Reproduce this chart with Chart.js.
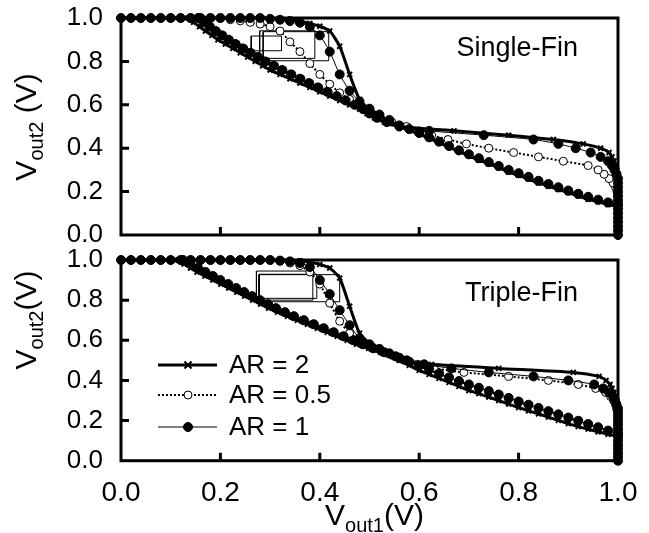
<!DOCTYPE html>
<html>
<head>
<meta charset="utf-8">
<script src="https://cdn.jsdelivr.net/npm/chart.js@4.4.1/dist/chart.umd.min.js"></script>
<style>
  html, body { margin: 0; padding: 0; background: #fff; }
  #wrap { position: relative; width: 649px; height: 533px; overflow: hidden; }
  canvas { position: absolute; left: 0; }
</style>
</head>
<body>
<div id="wrap">
  <canvas id="singleFin" width="649" height="255" style="top:0"></canvas>
  <canvas id="tripleFin" width="649" height="290" style="top:243px"></canvas>
</div>
<script>
// swept voltage (V), step 0.02
const vSweep = [0, 0.02, 0.04, 0.06, 0.08, 0.10, 0.12, 0.14, 0.16, 0.18,
  0.20, 0.22, 0.24, 0.26, 0.28, 0.30, 0.32, 0.34, 0.36, 0.38,
  0.40, 0.42, 0.44, 0.46, 0.48, 0.50, 0.52, 0.54, 0.56, 0.58,
  0.60, 0.62, 0.64, 0.66, 0.68, 0.70, 0.72, 0.74, 0.76, 0.78,
  0.80, 0.82, 0.84, 0.86, 0.88, 0.90, 0.92, 0.94, 0.96, 0.98, 1.0];

const axisTicks = [0, 0.2, 0.4, 0.6, 0.8, 1.0];
const legendLabels = ['AR = 2', 'AR = 0.5', 'AR = 1'];

// Single-Fin: Vout2 read at Vout1 = vSweep
const singleAR2_out2 = [1, 1, 1, 1, 1, 1, 1, 1, 1, 1, 1, 1, 1, 1, 1, 1,
  0.996, 0.992, 0.985, 0.975, 0.962, 0.94, 0.87, 0.74, 0.625, 0.58,
  0.552, 0.525, 0.50, 0.482, 0.465, 0.445, 0.425, 0.405, 0.385, 0.365,
  0.345, 0.328, 0.31, 0.29, 0.275, 0.258, 0.24, 0.225, 0.21, 0.195,
  0.18, 0.165, 0.153, 0.14, 0.13];
const singleAR05_out2 = [1, 1, 1, 1, 1, 1, 1, 1, 1, 1, 1,
  0.992, 0.987, 0.98, 0.972, 0.96, 0.94, 0.89, 0.845, 0.79, 0.74,
  0.695, 0.655, 0.625, 0.60, 0.575, 0.552, 0.528, 0.505, 0.487, 0.47,
  0.45, 0.43, 0.41, 0.39, 0.37, 0.352, 0.334, 0.316, 0.298, 0.282,
  0.265, 0.248, 0.232, 0.217, 0.202, 0.188, 0.174, 0.161, 0.149, 0.138];
const singleAR1_out2 = [1, 1, 1, 1, 1, 1, 1, 1, 1, 1, 1, 1, 1, 1, 1,
  0.996, 0.992, 0.986, 0.978, 0.96, 0.92, 0.845, 0.74, 0.665, 0.615,
  0.582, 0.555, 0.53, 0.505, 0.488, 0.47, 0.45, 0.43, 0.41, 0.39,
  0.372, 0.354, 0.336, 0.318, 0.30, 0.285, 0.268, 0.25, 0.235, 0.22,
  0.205, 0.19, 0.176, 0.163, 0.15, 0.14];
// Single-Fin: Vout1 read at Vout2 = vSweep
const singleAR2_out1 = [1, 1, 1, 1, 1, 1, 1, 1, 1, 1, 1, 1, 1, 1, 1,
  0.997, 0.995, 0.992, 0.988, 0.982, 0.965, 0.93, 0.87, 0.78, 0.67,
  0.56, 0.53, 0.51, 0.495, 0.48, 0.46, 0.44, 0.42, 0.40, 0.38,
  0.36, 0.34, 0.32, 0.30, 0.285, 0.27, 0.255, 0.24, 0.225, 0.21,
  0.195, 0.183, 0.17, 0.158, 0.146, 0.135];
const singleAR05_out1 = [1, 1, 1, 1, 1, 1, 1, 1, 1, 1,
  0.998, 0.995, 0.99, 0.982, 0.972, 0.96, 0.94, 0.89, 0.84, 0.79,
  0.74, 0.695, 0.658, 0.625, 0.60, 0.575, 0.545, 0.522, 0.505, 0.49,
  0.472, 0.454, 0.436, 0.417, 0.398, 0.38, 0.362, 0.344, 0.326, 0.309,
  0.292, 0.277, 0.262, 0.247, 0.232, 0.218, 0.205, 0.192, 0.18, 0.168, 0.157];
const singleAR1_out1 = [1, 1, 1, 1, 1, 1, 1, 1, 1, 1, 1, 1, 1, 1,
  0.997, 0.993, 0.988, 0.98, 0.965, 0.945, 0.915, 0.88, 0.83, 0.73,
  0.62, 0.56, 0.535, 0.515, 0.50, 0.487, 0.47, 0.452, 0.434, 0.415,
  0.396, 0.378, 0.36, 0.342, 0.324, 0.307, 0.29, 0.275, 0.26, 0.245,
  0.23, 0.216, 0.203, 0.19, 0.178, 0.166, 0.155];

// Triple-Fin: Vout2 read at Vout1 = vSweep
const tripleAR2_out2 = [1, 1, 1, 1, 1, 1, 1, 1, 1, 1, 1, 1, 1, 1, 1, 1, 1, 1,
  0.995, 0.99, 0.978, 0.96, 0.91, 0.77, 0.635, 0.585, 0.553, 0.525,
  0.50, 0.475, 0.45, 0.43, 0.41, 0.39, 0.37, 0.35, 0.334, 0.317,
  0.30, 0.282, 0.265, 0.249, 0.233, 0.217, 0.201, 0.185, 0.17, 0.157,
  0.144, 0.132, 0.12];
const tripleAR05_out2 = [1, 1, 1, 1, 1, 1, 1, 1, 1, 1, 1, 1, 1, 1, 1, 1,
  0.994, 0.985, 0.972, 0.94, 0.88, 0.785, 0.695, 0.635, 0.60, 0.578,
  0.555, 0.533, 0.511, 0.491, 0.473, 0.453, 0.433, 0.413, 0.395, 0.378,
  0.362, 0.345, 0.328, 0.311, 0.293, 0.277, 0.261, 0.245, 0.229, 0.213,
  0.197, 0.181, 0.165, 0.148, 0.13];
const tripleAR1_out2 = [1, 1, 1, 1, 1, 1, 1, 1, 1, 1, 1, 1, 1, 1, 1, 1,
  0.997, 0.993, 0.985, 0.965, 0.90, 0.83, 0.75, 0.675, 0.61, 0.58,
  0.557, 0.535, 0.513, 0.493, 0.475, 0.455, 0.435, 0.415, 0.397, 0.38,
  0.364, 0.347, 0.33, 0.313, 0.295, 0.279, 0.263, 0.247, 0.231, 0.215,
  0.199, 0.183, 0.167, 0.15, 0.13];
// Triple-Fin: Vout1 read at Vout2 = vSweep
const tripleAR2_out1 = [1, 1, 1, 1, 1, 1, 1, 1, 1, 1, 1, 1, 1, 1, 1,
  0.996, 0.994, 0.992, 0.988, 0.984, 0.976, 0.962, 0.91, 0.76, 0.625,
  0.565, 0.545, 0.522, 0.498, 0.474, 0.455, 0.435, 0.415, 0.395, 0.375,
  0.355, 0.335, 0.315, 0.297, 0.281, 0.265, 0.249, 0.233, 0.217, 0.201,
  0.185, 0.169, 0.153, 0.14, 0.127, 0.115];
const tripleAR05_out1 = [1, 1, 1, 1, 1, 1, 1, 1, 1, 1, 1, 1, 1,
  0.997, 0.995, 0.991, 0.985, 0.975, 0.955, 0.92, 0.86, 0.78, 0.69,
  0.63, 0.595, 0.57, 0.55, 0.527, 0.505, 0.484, 0.465, 0.445, 0.425,
  0.405, 0.385, 0.365, 0.345, 0.327, 0.31, 0.294, 0.278, 0.262, 0.246,
  0.23, 0.214, 0.198, 0.183, 0.168, 0.153, 0.138, 0.125];
const tripleAR1_out1 = [1, 1, 1, 1, 1, 1, 1, 1, 1, 1, 1, 1, 1, 1,
  0.997, 0.994, 0.99, 0.982, 0.97, 0.952, 0.90, 0.83, 0.74, 0.665,
  0.61, 0.575, 0.553, 0.53, 0.508, 0.487, 0.468, 0.448, 0.428, 0.408,
  0.388, 0.368, 0.348, 0.33, 0.312, 0.296, 0.28, 0.264, 0.248, 0.232,
  0.216, 0.2, 0.185, 0.17, 0.155, 0.14, 0.125];

// noise-margin boxes [x0, x1, y0, y1]
const singleBoxes = [[0.262, 0.323, 0.849, 0.917], [0.279, 0.390, 0.814, 0.941], [0.286, 0.418, 0.803, 0.937]];
const tripleBoxes = [[0.2725, 0.386, 0.80, 0.945], [0.278, 0.394, 0.809, 0.929], [0.278, 0.44, 0.792, 0.927]];

const FONT = "'Liberation Sans', Arial, sans-serif";
Chart.defaults.font.family = FONT;
Chart.defaults.color = '#000';

const styleAR2 = { borderColor: '#000', borderWidth: 3, pointStyle: 'crossRot', pointRadius: 3.5,
  pointBorderWidth: 2, pointBackgroundColor: '#000', pointBorderColor: '#000' };
const styleAR05 = { borderColor: '#000', borderWidth: 2, borderDash: [2, 2], pointStyle: 'circle', pointRadius: 4,
  pointBorderWidth: 1, pointBackgroundColor: '#fff', pointBorderColor: '#000' };
const styleAR1 = { borderColor: '#000', borderWidth: 1, pointStyle: 'circle', pointRadius: 4.5,
  pointBorderWidth: 1, pointBackgroundColor: '#000', pointBorderColor: '#000' };
const legendStyles = [styleAR2, styleAR05, styleAR1];

function curve(xs, ys, style, order) {
  return Object.assign({
    data: xs.map((x, i) => ({ x: x, y: ys[i] })),
    showLine: true, tension: 0.2, clip: false, order: order
  }, style);
}

function box(b) {
  return {
    data: [{ x: b[0], y: b[2] }, { x: b[1], y: b[2] }, { x: b[1], y: b[3] }, { x: b[0], y: b[3] }, { x: b[0], y: b[2] }],
    showLine: true, tension: 0, pointRadius: 0, borderColor: '#000', borderWidth: 1, order: 5
  };
}

function drawParts(ctx, parts, x, y, center) {
  let w = 0;
  parts.forEach(p => { ctx.font = p[1] + 'px ' + FONT; w += ctx.measureText(p[0]).width; });
  let cx = center ? x - w / 2 : x;
  ctx.textAlign = 'left';
  ctx.textBaseline = 'alphabetic';
  parts.forEach(p => {
    ctx.font = p[1] + 'px ' + FONT;
    ctx.fillText(p[0], cx, y + p[2]);
    cx += ctx.measureText(p[0]).width;
  });
}

function drawMarker(ctx, style, x, y) {
  ctx.save();
  ctx.lineWidth = style.pointBorderWidth;
  ctx.strokeStyle = style.pointBorderColor;
  ctx.fillStyle = style.pointBackgroundColor;
  const r = style.pointRadius;
  ctx.beginPath();
  if (style.pointStyle === 'crossRot') {
    ctx.moveTo(x - r, y - r); ctx.lineTo(x + r, y + r);
    ctx.moveTo(x + r, y - r); ctx.lineTo(x - r, y + r);
    ctx.stroke();
  } else {
    ctx.arc(x, y, r, 0, Math.PI * 2);
    ctx.fill(); ctx.stroke();
  }
  ctx.restore();
}

const framePlugin = {
  id: 'frame',
  afterDraw(chart, args, opts) {
    const ctx = chart.ctx;
    const a = chart.chartArea;
    const xs = chart.scales.x, ys = chart.scales.y;
    ctx.save();
    ctx.strokeStyle = '#000';
    ctx.fillStyle = '#000';
    ctx.lineWidth = 3;
    ctx.strokeRect(a.left, a.top, a.right - a.left, a.bottom - a.top);
    ctx.beginPath();
    axisTicks.slice(1, -1).forEach(v => {
      const px = xs.getPixelForValue(v);
      ctx.moveTo(px, a.bottom); ctx.lineTo(px, a.bottom - 8);
      const py = ys.getPixelForValue(v);
      ctx.moveTo(a.left, py); ctx.lineTo(a.left + 8, py);
    });
    ctx.stroke();

    // panel name
    ctx.font = '27px ' + FONT;
    ctx.textAlign = 'right';
    ctx.textBaseline = 'alphabetic';
    ctx.fillText(opts.panel, 578, a.top + opts.panelDy);

    // y title with subscript
    ctx.save();
    ctx.translate(36, opts.yTitleY);
    ctx.rotate(-Math.PI / 2);
    drawParts(ctx, [['V', 30, 0], ['out2', 20, 7], [opts.ySep + '(V)', 30, 0]], 0, 0, true);
    ctx.restore();

    if (opts.xTitle) {
      drawParts(ctx, [['V', 30, 0], ['out1', 20, 7], ['(V)', 30, 0]], 325, opts.xTitleY, false);
    }

    if (opts.legend) {
      const rows = [122, 152, 184];
      legendStyles.forEach((st, i) => {
        const y = rows[i];
        ctx.save();
        ctx.lineWidth = st.borderWidth;
        ctx.setLineDash(st.borderDash || []);
        ctx.beginPath();
        ctx.moveTo(158, y); ctx.lineTo(217, y);
        ctx.stroke();
        ctx.restore();
        drawMarker(ctx, st, 188, y);
        ctx.font = '26px ' + FONT;
        ctx.textAlign = 'left';
        ctx.textBaseline = 'middle';
        ctx.fillText(legendLabels[i], 229, y + 1);
      });
    }
    ctx.restore();
  }
};

function makePanel(id, series, boxes, opts) {
  // lower order value is drawn on top
  const datasets = [
    curve(vSweep, series.ar2_out2, styleAR2, 0),
    curve(series.ar2_out1, vSweep, styleAR2, 0),
    curve(vSweep, series.ar1_out2, styleAR1, 1),
    curve(series.ar1_out1, vSweep, styleAR1, 1),
    curve(vSweep, series.ar05_out2, styleAR05, 2),
    curve(series.ar05_out1, vSweep, styleAR05, 2)
  ].concat(boxes.map(box));

  const chart = new Chart(document.getElementById(id), {
    type: 'scatter',
    data: { datasets: datasets },
    plugins: [framePlugin],
    options: {
      responsive: false,
      animation: false,
      devicePixelRatio: 1,
      layout: { padding: { left: 0, right: 31, top: opts.padTop, bottom: 0 } },
      scales: {
        x: {
          type: 'linear', min: 0, max: 1,
          afterBuildTicks: s => { s.ticks = axisTicks.map(v => ({ value: v })); },
          afterFit: s => { s.height = opts.xHeight; s.paddingLeft = 0; s.paddingRight = 0; },
          grid: { display: false, drawTicks: false },
          border: { display: false },
          ticks: { display: opts.xLabels, padding: 16, font: { size: 28 },
            callback: v => Number(v).toFixed(1) }
        },
        y: {
          type: 'linear', min: 0, max: 1,
          afterBuildTicks: s => { s.ticks = axisTicks.map(v => ({ value: v })); },
          afterFit: s => { s.width = 121; s.paddingTop = 0; s.paddingBottom = 0; },
          grid: { display: false, drawTicks: false },
          border: { display: false },
          ticks: { padding: 18, font: { size: 26 }, callback: v => Number(v).toFixed(1) }
        }
      },
      plugins: {
        legend: { display: false },
        tooltip: { enabled: false },
        frame: opts.frame
      }
    }
  });

  // pin the plot area to the wanted box
  for (let k = 0; k < 2; k++) {
    const dTop = chart.chartArea.top - opts.areaTop;
    const dBot = chart.chartArea.bottom - opts.areaBottom;
    if (Math.abs(dTop) < 0.3 && Math.abs(dBot) < 0.3) break;
    chart.options.layout.padding.top -= dTop;
    opts.xHeight += dBot;
    chart.update();
  }
  return chart;
}

makePanel('singleFin', {
  ar2_out2: singleAR2_out2, ar2_out1: singleAR2_out1,
  ar05_out2: singleAR05_out2, ar05_out1: singleAR05_out1,
  ar1_out2: singleAR1_out2, ar1_out1: singleAR1_out1
}, singleBoxes, {
  padTop: 18, xHeight: 20, xLabels: false, areaTop: 18, areaBottom: 235,
  frame: { panel: 'Single-Fin', panelDy: 38, yTitleY: 127, ySep: ' ', xTitle: false, legend: false }
});

makePanel('tripleFin', {
  ar2_out2: tripleAR2_out2, ar2_out1: tripleAR2_out1,
  ar05_out2: tripleAR05_out2, ar05_out1: tripleAR05_out1,
  ar1_out2: tripleAR1_out2, ar1_out1: tripleAR1_out1
}, tripleBoxes, {
  padTop: 17, xHeight: 72, xLabels: true, areaTop: 17, areaBottom: 217.7,
  frame: { panel: 'Triple-Fin', panelDy: 41, yTitleY: 77, ySep: '', xTitle: true, xTitleY: 282, legend: true }
});
</script>
</body>
</html>
